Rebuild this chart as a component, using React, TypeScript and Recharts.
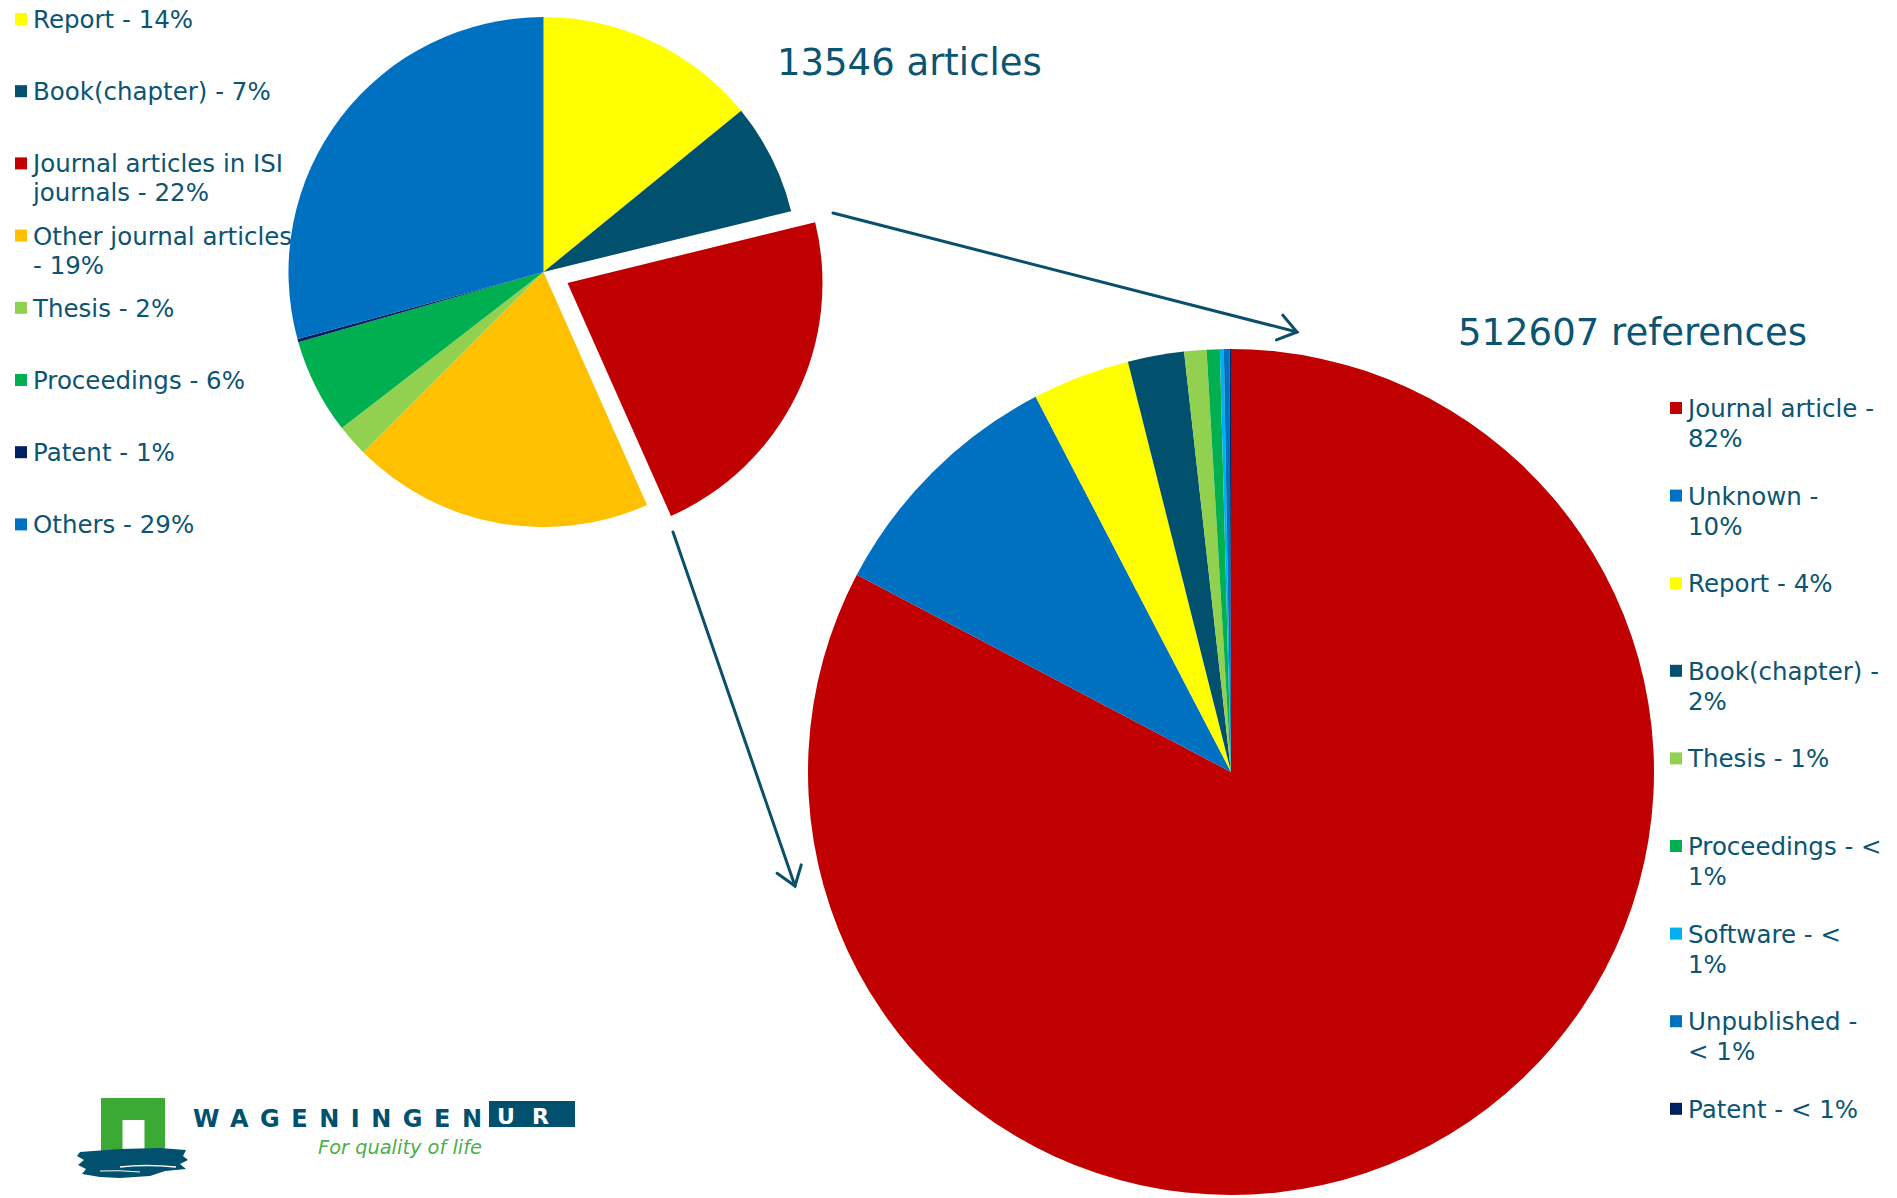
import React from "react";
import { PieChart, Pie, Cell } from "recharts";

const W = 1897;
const H = 1198;
const TEXT = "#0B5472";
const FONT = "'DejaVu Sans', Verdana, sans-serif";

// 13546 articles, by type (clockwise from 12 o'clock)
const articleTypes = ["Report", "Book(chapter)", "Journal articles in ISI journals", "Other journal articles", "Thesis", "Proceedings", "Patent", "Others"];
const articleShares = [14, 7, 22, 19, 2, 6, 0.2, 29];
const articleColors = ["#FFFF00", "#00506E", "#C00000", "#FFC000", "#92D050", "#00B050", "#002060", "#0070C0"];
const articleLegend = [
  ["Report - 14%"],
  ["Book(chapter) - 7%"],
  ["Journal articles in ISI", "journals - 22%"],
  ["Other journal articles", "- 19%"],
  ["Thesis - 2%"],
  ["Proceedings - 6%"],
  ["Patent - 1%"],
  ["Others - 29%"],
];
const explodedIndex = 2;

// 512607 references, by type
const refTypes = ["Journal article", "Unknown", "Report", "Book(chapter)", "Thesis", "Proceedings", "Software", "Unpublished", "Patent"];
const refShares = [82.7, 9.64, 3.72, 2.15, 0.85, 0.5, 0.15, 0.22, 0.05];
const refColors = ["#C00000", "#0070C0", "#FFFF00", "#00506E", "#92D050", "#00B050", "#00B0F0", "#0070C0", "#002060"];
const refLegend = [
  ["Journal article -", "82%"],
  ["Unknown -", "10%"],
  ["Report - 4%"],
  ["Book(chapter) -", "2%"],
  ["Thesis - 1%"],
  ["Proceedings - <", "1%"],
  ["Software - <", "1%"],
  ["Unpublished -", "< 1%"],
  ["Patent - < 1%"],
];

const articleData = articleTypes.map((name, i) => ({ name, value: articleShares[i] }));
const refData = refTypes.map((name, i) => ({ name, value: refShares[i] }));

// layout
const small = { cx: 543.5, cy: 272, r: 255, dx: 24, dy: 11 };
const big = { cx: 1231, cy: 772, r: 423 };

function Arrow({ x1, y1, x2, y2 }: { x1: number; y1: number; x2: number; y2: number }) {
  const a = Math.atan2(y2 - y1, x2 - x1);
  const len = 22;
  const spread = 0.62;
  const w1 = [x2 - len * Math.cos(a - spread), y2 - len * Math.sin(a - spread)];
  const w2 = [x2 - len * Math.cos(a + spread), y2 - len * Math.sin(a + spread)];
  return (
    <g stroke="#0B4F6C" strokeWidth={3} fill="none" strokeLinecap="round">
      <line x1={x1} y1={y1} x2={x2} y2={y2} />
      <polyline points={`${w1[0]},${w1[1]} ${x2},${y2} ${w2[0]},${w2[1]}`} strokeLinejoin="miter" />
    </g>
  );
}

function LegendBlock({ items, colors, markerX, textX, firstY, step, lineGap }: any) {
  return (
    <g>
      {items.map((lines: string[], i: number) => {
        const cy = firstY + i * step;
        return (
          <g key={i}>
            <rect x={markerX} y={cy - 6} width={12} height={12} fill={colors[i]} />
            {lines.map((t, j) => (
              <text key={j} x={textX} y={cy + 9 + j * lineGap} fontSize={24.5} fill={TEXT} fontFamily={FONT}>
                {t}
              </text>
            ))}
          </g>
        );
      })}
    </g>
  );
}

function Logo() {
  return (
    <g>
      <path d="M101 1098 H165 V1157 H144.5 V1120 H122.5 V1157 H101 Z" fill="#3AAA35" />
      <path
        d="M80 1152 L120 1149 L160 1148 L186 1150 L183 1156 L188 1160 L180 1164 L186 1169 L165 1171 L150 1176 L120 1178 L100 1177 L82 1174 L86 1169 L78 1165 L84 1160 L77 1156 Z"
        fill="#00506E"
      />
      <path d="M120 1167 Q145 1164 176 1167" stroke="#fff" strokeWidth={1.4} fill="none" />
      <path d="M100 1171 Q120 1170 140 1172" stroke="#fff" strokeWidth={1} fill="none" />
      <text
        x={193}
        y={1127}
        fontSize={24}
        fill="#00506E"
        fontFamily={FONT}
        textLength={289}
        lengthAdjust="spacing"
        transform="translate(193 0) scale(1 1) translate(-193 0)"
        style={{ fontWeight: 600 }}
      >
        WAGENINGEN
      </text>
      <rect x={489} y={1101} width={86} height={26} fill="#00506E" />
      <text x={497} y={1124} fontSize={22} fontWeight="bold" fill="#fff" fontFamily={FONT} textLength={52} lengthAdjust="spacing">
        UR
      </text>
      <text x={318} y={1154} fontSize={20} fontStyle="italic" fill="#4DAF4A" fontFamily={FONT} textLength={164} lengthAdjust="spacingAndGlyphs">
        For quality of life
      </text>
    </g>
  );
}

export default function App() {
  return (
    <div style={{ position: "absolute", left: 0, top: 0, width: W, height: H, background: "#fff", overflow: "hidden" }}>
      <div style={{ position: "absolute", left: 0, top: 0 }}>
        <PieChart width={W} height={H} margin={{ top: 0, right: 0, bottom: 0, left: 0 }}>
          <Pie
            data={articleData}
            dataKey="value"
            cx={small.cx}
            cy={small.cy}
            innerRadius={0}
            outerRadius={small.r}
            startAngle={90}
            endAngle={-270}
            stroke="none"
            isAnimationActive={false}
          >
            {articleData.map((d, i) => (
              <Cell key={d.name} fill={i === explodedIndex ? "none" : articleColors[i]} stroke="none" />
            ))}
          </Pie>
          <Pie
            data={articleData}
            dataKey="value"
            cx={small.cx + small.dx}
            cy={small.cy + small.dy}
            innerRadius={0}
            outerRadius={small.r}
            startAngle={90}
            endAngle={-270}
            stroke="none"
            isAnimationActive={false}
          >
            {articleData.map((d, i) => (
              <Cell key={d.name} fill={i === explodedIndex ? articleColors[i] : "none"} stroke="none" />
            ))}
          </Pie>
          <Pie
            data={refData}
            dataKey="value"
            cx={big.cx}
            cy={big.cy}
            innerRadius={0}
            outerRadius={big.r}
            startAngle={90}
            endAngle={-270}
            stroke="none"
            isAnimationActive={false}
          >
            {refData.map((d, i) => (
              <Cell key={d.name + i} fill={refColors[i]} stroke="none" />
            ))}
          </Pie>
        </PieChart>
      </div>
      <svg width={W} height={H} style={{ position: "absolute", left: 0, top: 0, pointerEvents: "none" }}>
        <text x={777} y={75} fontSize={37} fill={TEXT} fontFamily={FONT}>13546 articles</text>
        <text x={1458} y={345} fontSize={37} fill={TEXT} fontFamily={FONT}>512607 references</text>
        <Arrow x1={833} y1={213} x2={1297} y2={332} />
        <Arrow x1={673} y1={532} x2={795} y2={886} />
        <LegendBlock items={articleLegend} colors={articleColors} markerX={15} textX={33} firstY={19} step={72.2} lineGap={29} />
        <LegendBlock items={refLegend} colors={refColors} markerX={1670} textX={1688} firstY={408} step={87.6} lineGap={30} />
        <Logo />
      </svg>
    </div>
  );
}
